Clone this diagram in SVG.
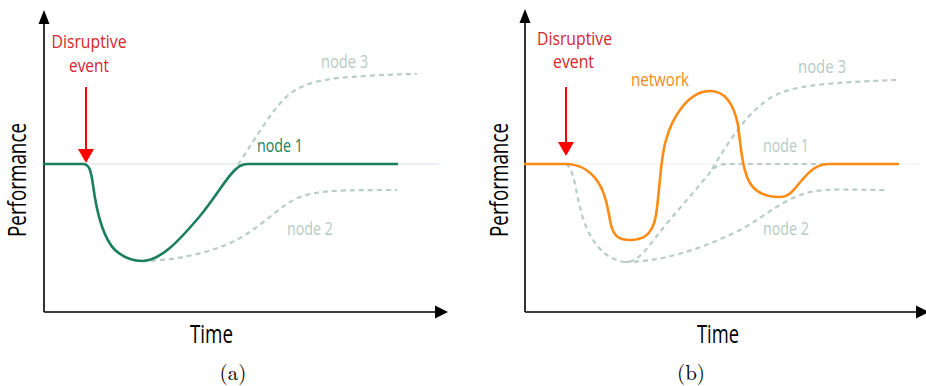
<svg xmlns="http://www.w3.org/2000/svg" width="926" height="386" viewBox="0 0 926 386">
  <style>
    .axis { stroke: #000; stroke-width: 1.6; fill: none; }
    .head { fill: #000; }
    .base-a { stroke: #dbe3ee; stroke-width: 1.2; fill: none; }
    .base-b { stroke: #f2eeea; stroke-width: 1.2; fill: none; }
    .solid-green { stroke: #1b7f5e; stroke-width: 2.6; fill: none; stroke-linecap: round; stroke-linejoin: round; }
    .solid-orange { stroke: #ff8a14; stroke-width: 2.6; fill: none; stroke-linecap: round; stroke-linejoin: round; }
    .dashed { stroke: #b8cdc7; stroke-width: 2.2; fill: none; stroke-dasharray: 5 4; }
    .event-line { stroke: #ff0000; stroke-width: 2; }
    .event-head { fill: #ff0000; }
    .lbl { font-family: "Open Sans", "DejaVu Sans", sans-serif; }
    .red { fill: #d4262c; font-size: 18px; }
    .green { fill: #1b7f5e; font-size: 19px; }
    .grey { fill: #b5cbc4; font-size: 19px; }
    .orange { fill: #f28a1e; font-size: 19px; }
    .axis-title { fill: #000; font-size: 25px; }
    .caption { font-family: "Latin Modern Roman", "Liberation Serif", "DejaVu Serif", serif; font-size: 21px; fill: #000; }
  </style>

  <!-- Panel (a): single node response -->
  <g id="panel-a">
    <line class="base-a" x1="44" y1="164" x2="439" y2="164"/>
    <g id="axes-a">
      <line class="axis" x1="44" y1="312" x2="44" y2="22"/>
      <line class="axis" x1="44" y1="312" x2="437" y2="312"/>
      <polygon class="head" points="44,10 38.5,24 49.5,24"/>
      <polygon class="head" points="448,312 435,305.5 435,318.5"/>
    </g>
    <g id="curves-a">
      <path id="a-node3" class="dashed" d="M233,172 C250,148 268,115 285,98 C300,84 320,79 350,77 C380,75 400,74 417,74"/>
      <path id="a-node2" class="dashed" d="M142,261 C175,261 215,252 240,238 C265,224 280,205 300,197 C320,190 340,190 397,190"/>
      <path id="a-node1" class="solid-green" d="M44,164 H83 C89,164 91,170 93,185 C97,215 103,238 115,250 C124,258 133,261 142,261 C160,261 178,242 200,216 C215,198 225,180 233,172 C238,167 241,164 248,164 H397"/>
    </g>
    <g id="event-a">
      <line class="event-line" x1="86" y1="87" x2="86" y2="151"/>
      <polygon class="event-head" points="78,149 94,149 86,163"/>
      <text class="lbl red" x="89" y="48" text-anchor="middle" textLength="75" lengthAdjust="spacingAndGlyphs">Disruptive</text>
      <text class="lbl red" x="89" y="72" text-anchor="middle" textLength="40" lengthAdjust="spacingAndGlyphs">event</text>
    </g>
    <text class="lbl grey" x="321" y="68" textLength="47" lengthAdjust="spacingAndGlyphs">node 3</text>
    <text class="lbl green" x="257" y="152" textLength="46" lengthAdjust="spacingAndGlyphs">node 1</text>
    <text class="lbl grey" x="287" y="235" textLength="46" lengthAdjust="spacingAndGlyphs">node 2</text>
    <text class="lbl axis-title" transform="translate(26,180) rotate(-90)" text-anchor="middle" textLength="114" lengthAdjust="spacingAndGlyphs">Performance</text>
    <text class="lbl axis-title" x="211.5" y="343" text-anchor="middle" textLength="43" lengthAdjust="spacingAndGlyphs">Time</text>
    <text class="caption" x="233" y="380" text-anchor="middle">(a)</text>
  </g>

  <!-- Panel (b): network response -->
  <g id="panel-b">
    <line class="base-b" x1="525" y1="164" x2="920" y2="164"/>
    <g id="axes-b">
      <line class="axis" x1="525" y1="312" x2="525" y2="22"/>
      <line class="axis" x1="525" y1="312" x2="918" y2="312"/>
      <polygon class="head" points="525,9 519.5,23 530.5,23"/>
      <polygon class="head" points="929,312 916,305.5 916,318.5"/>
    </g>
    <g id="curves-b">
      <!-- node 3 leaves the shared recovery path of node 1 where node 1 levels off -->
      <path id="b-node3" class="dashed" d="M712,169 C730,140 745,115 770,98 C790,86 820,83 896,80"/>
      <path id="b-node2" class="dashed" d="M625,262 C660,262 700,250 740,230 C765,217 780,200 810,192 C830,188 850,190 885,190"/>
      <path id="b-node1" class="dashed" d="M566,164 C574,168 575,190 582,215 C590,242 605,260 625,262 C640,263 650,243 668,222 C685,202 700,185 712,170 C717,165 721,164 728,164 H885"/>
      <path id="b-network" class="solid-orange" d="M525,164 H566 C578,164 590,170 598,182 C606,194 608,210 611,225 C614,237 620,240 630,240 C646,240 653,232 656,215 C660,190 660,160 666,140 C672,118 688,91 710,91 C726,91 734,105 738,125 C741,150 743,172 750,183 C756,193 768,197 780,197 C790,197 795,188 802,180 C810,171 816,164 830,164 H898"/>
    </g>
    <g id="event-b">
      <line class="event-line" x1="566" y1="87" x2="566" y2="144"/>
      <polygon class="event-head" points="558,142 574,142 566,156"/>
      <text class="lbl red" x="574.5" y="45" text-anchor="middle" textLength="75" lengthAdjust="spacingAndGlyphs">Disruptive</text>
      <text class="lbl red" x="573.5" y="68" text-anchor="middle" textLength="41" lengthAdjust="spacingAndGlyphs">event</text>
    </g>
    <text class="lbl orange" x="631" y="86" textLength="58" lengthAdjust="spacingAndGlyphs">network</text>
    <text class="lbl grey" x="798" y="73" textLength="48" lengthAdjust="spacingAndGlyphs">node 3</text>
    <text class="lbl grey" x="763" y="152" textLength="46" lengthAdjust="spacingAndGlyphs">node 1</text>
    <text class="lbl grey" x="763" y="235" textLength="46" lengthAdjust="spacingAndGlyphs">node 2</text>
    <text class="lbl axis-title" transform="translate(508,180) rotate(-90)" text-anchor="middle" textLength="114" lengthAdjust="spacingAndGlyphs">Performance</text>
    <text class="lbl axis-title" x="718" y="343" text-anchor="middle" textLength="42" lengthAdjust="spacingAndGlyphs">Time</text>
    <text class="caption" x="691" y="380" text-anchor="middle">(b)</text>
  </g>
</svg>
